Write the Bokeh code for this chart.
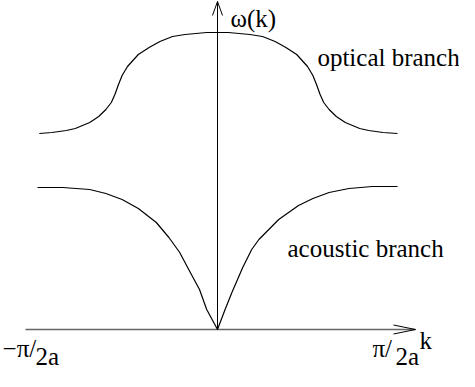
from bokeh.plotting import figure
from bokeh.models import Range1d
from bokeh.core.properties import value
from bokeh.embed import file_html
from bokeh.resources import INLINE

# ---- data (k in units of pi/2a, omega in arbitrary units) ----
optical_k = [-0.99, -0.92, -0.84, -0.79, -0.71, -0.66, -0.62, -0.59, -0.57, -0.55, -0.53,
             -0.50, -0.47, -0.44, -0.38, -0.32, -0.25, -0.18, -0.12, -0.06, 0.0,
             0.06, 0.12, 0.18, 0.25, 0.32, 0.38, 0.44, 0.47, 0.50, 0.53, 0.55,
             0.57, 0.59, 0.62, 0.66, 0.71, 0.79, 0.84, 0.92, 1.0]
optical_w = [1.96, 1.97, 1.99, 2.01, 2.07, 2.13, 2.20, 2.27, 2.35, 2.45, 2.54,
             2.63, 2.69, 2.75, 2.82, 2.88, 2.93, 2.95, 2.96, 2.97, 2.97,
             2.97, 2.96, 2.95, 2.93, 2.88, 2.82, 2.75, 2.69, 2.63, 2.54, 2.45,
             2.35, 2.27, 2.20, 2.13, 2.07, 2.01, 1.99, 1.97, 1.96]

acoustic_k = [-1.0, -0.86, -0.71, -0.62, -0.53, -0.44, -0.34, -0.27, -0.21, -0.16, -0.10, -0.06, 0.0,
              0.04, 0.08, 0.14, 0.19, 0.23, 0.34, 0.45, 0.53, 0.62, 0.73, 0.86, 1.0]
acoustic_w = [1.42, 1.42, 1.40, 1.36, 1.30, 1.21, 1.07, 0.92, 0.77, 0.60, 0.40, 0.20, 0.0,
              0.19, 0.37, 0.62, 0.80, 0.90, 1.10, 1.24, 1.31, 1.37, 1.41, 1.43, 1.43]

k_axis_min, k_axis_max = -1.067, 1.10
w_axis_max = 3.28

labels_text = ["optical branch", "acoustic branch"]
labels_k = [0.555, 0.389]
labels_w = [2.72, 0.813]

axis_labels = ["\u03c9(k)", "k"]
axis_labels_k = [0.072, 1.122]
axis_labels_w = [3.11, -0.11]

tick_num = ["\u2212\u03c0/", "\u03c0/"]
tick_num_k = [-1.194, 0.861]
tick_num_w = [-0.19, -0.19]
tick_den = ["2a", "2a"]
tick_den_k = [-1.011, 0.989]
tick_den_w = [-0.27, -0.27]

PX_K = 180.0   # px per unit k
PX_W = 100.0   # px per unit omega

p = figure(width=459, height=371, output_backend="svg", toolbar_location=None,
           x_range=Range1d(-1.2056, 1.3444), y_range=Range1d(-0.42, 3.29),
           min_border=0)
p.xaxis.visible = False
p.yaxis.visible = False
p.grid.visible = False
p.outline_line_color = None
p.background_fill_color = "white"
p.border_fill_color = "white"

# axes with open arrow heads
p.line([k_axis_min, k_axis_max], [0, 0], line_color="#666666", line_width=1.6)
p.line([0, 0], [0, w_axis_max], line_color="black", line_width=1)
hl, hw = 22 / PX_K, 4.5 / PX_W
p.line([k_axis_max - hl, k_axis_max, k_axis_max - hl], [hw, 0, -hw], line_color="black", line_width=1)
vl, vw = 14 / PX_W, 5 / PX_K
p.line([-vw, 0, vw], [w_axis_max - vl, w_axis_max, w_axis_max - vl], line_color="black", line_width=1)

# branches
p.line(optical_k, optical_w, line_color="black", line_width=1.2)
p.line(acoustic_k, acoustic_w, line_color="black", line_width=1.2)

font = value("Liberation Serif")
p.text(x=labels_k, y=labels_w, text=labels_text, text_font=font, text_font_size="25px",
       text_baseline="alphabetic", text_align="left", text_color="black")
p.text(x=axis_labels_k, y=axis_labels_w, text=axis_labels, text_font=font, text_font_size="25px",
       text_baseline="alphabetic", text_align="left", text_color="black")
p.text(x=tick_num_k, y=tick_num_w, text=tick_num, text_font=font, text_font_size="25px",
       text_baseline="alphabetic", text_align="left", text_color="black")
p.text(x=tick_den_k, y=tick_den_w, text=tick_den, text_font=font, text_font_size="25px",
       text_baseline="alphabetic", text_align="left", text_color="black")

open("out.html", "w").write(file_html(p, INLINE))
